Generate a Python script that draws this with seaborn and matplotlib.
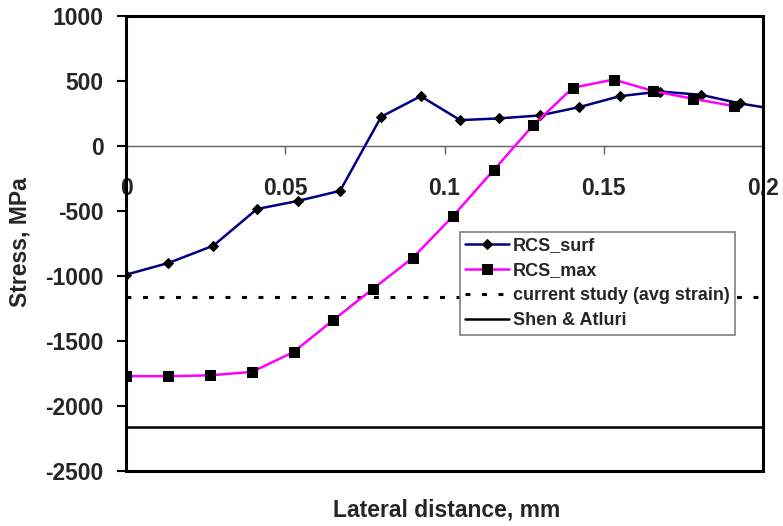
import matplotlib
matplotlib.use("Agg")
import matplotlib.pyplot as plt
import seaborn as sns
import pandas as pd
from matplotlib.patches import Rectangle

# ---- data ----
x_surf = [0, 0.0133, 0.0274, 0.0411, 0.0541, 0.0672, 0.0801, 0.0925, 0.1049,
          0.1170, 0.1299, 0.1423, 0.1550, 0.1676, 0.1804, 0.1929, 0.2057]
y_surf = [-990, -900, -767, -485, -422, -345, 225, 383, 199,
          212, 235, 299, 383, 419, 394, 327, 275]
x_max = [0, 0.0133, 0.0264, 0.0395, 0.0526, 0.0649, 0.0775, 0.0900, 0.1026,
         0.1154, 0.1278, 0.1403, 0.1531, 0.1656, 0.1781, 0.1908]
y_max = [-1771, -1771, -1764, -1738, -1585, -1342, -1099, -861, -541,
         -186, 159, 448, 511, 422, 363, 307]
current_study = -1165
shen_atluri = -2160
x_ticks = [0, 0.05, 0.1, 0.15, 0.2]
x_tick_labels = ["0", "0.05", "0.1", "0.15", "0.2"]
y_ticks = [1000, 500, 0, -500, -1000, -1500, -2000, -2500]

sns.set_style("white")
plt.rcParams["font.family"] = ["Liberation Sans", "DejaVu Sans"]
plt.rcParams["font.weight"] = "bold"
plt.rcParams["axes.unicode_minus"] = False

fig = plt.figure(figsize=(7.83, 5.26), dpi=100)
ax = fig.add_axes([0.161, 0.1046, 0.8135, 0.865])

df_surf = pd.DataFrame({"x": x_surf, "y": y_surf})
df_max = pd.DataFrame({"x": x_max, "y": y_max})

sns.lineplot(data=df_surf, x="x", y="y", ax=ax, sort=False, color="#000080",
             lw=1.8, marker="D", markersize=5.5, markerfacecolor="black",
             markeredgecolor="black", label="RCS_surf", zorder=3)
sns.lineplot(data=df_max, x="x", y="y", ax=ax, sort=False, color="#FF00FF",
             lw=1.8, marker="s", markersize=6.5, markerfacecolor="black",
             markeredgecolor="black", label="RCS_max", zorder=4)
ax.axhline(current_study, color="black", lw=2.2, linestyle=(0, (1.6, 3.8)),
           label="current study (avg strain)", zorder=2)
ax.axhline(shen_atluri, color="black", lw=1.8, label="Shen & Atluri", zorder=2)

ax.set_xlim(0, 0.2)
ax.set_ylim(-2500, 1000)

# frame
for s in ["top", "right", "left"]:
    ax.spines[s].set_visible(False)
ax.spines["bottom"].set_position(("data", 0))
ax.spines["bottom"].set_color("#606060")
ax.spines["bottom"].set_linewidth(1.0)
ax.spines["bottom"].set_zorder(1)
ax.add_patch(Rectangle((0, 0), 1, 1, transform=ax.transAxes, fill=False,
                       edgecolor="black", lw=2.2, clip_on=False, zorder=5))

ax.set_xticks(x_ticks)
ax.set_xticklabels(x_tick_labels)
ax.set_yticks(y_ticks)
ax.tick_params(axis="x", direction="out", length=6, width=1.0, color="#606060",
               pad=16, labelsize=16.5, bottom=True)
ax.tick_params(axis="y", direction="out", length=6.5, width=1.5, color="black",
               pad=9.5, labelsize=16.5, left=True)
for t in ax.get_xticklabels() + ax.get_yticklabels():
    t.set_fontweight("bold")

ax.set_xlabel("")
ax.set_ylabel("")
fig.text(0.57, 0.03, "Lateral distance, mm", ha="center", va="center",
         fontsize=16.5, fontweight="bold")
fig.text(0.026, 0.54, "Stress, MPa", ha="center", va="center", rotation=90,
         fontsize=16.5, fontweight="bold")

leg = ax.legend(loc="upper left", bbox_to_anchor=(0.524, 0.526), borderaxespad=0,
                prop={"weight": "bold", "size": 13}, frameon=True,
                fancybox=False, edgecolor="#808080", framealpha=1,
                handlelength=2.4, handletextpad=0.25, labelspacing=0.45,
                borderpad=0.3)
leg.get_frame().set_linewidth(1.2)
leg.set_zorder(6)

fig.savefig("out.png", dpi=100)
